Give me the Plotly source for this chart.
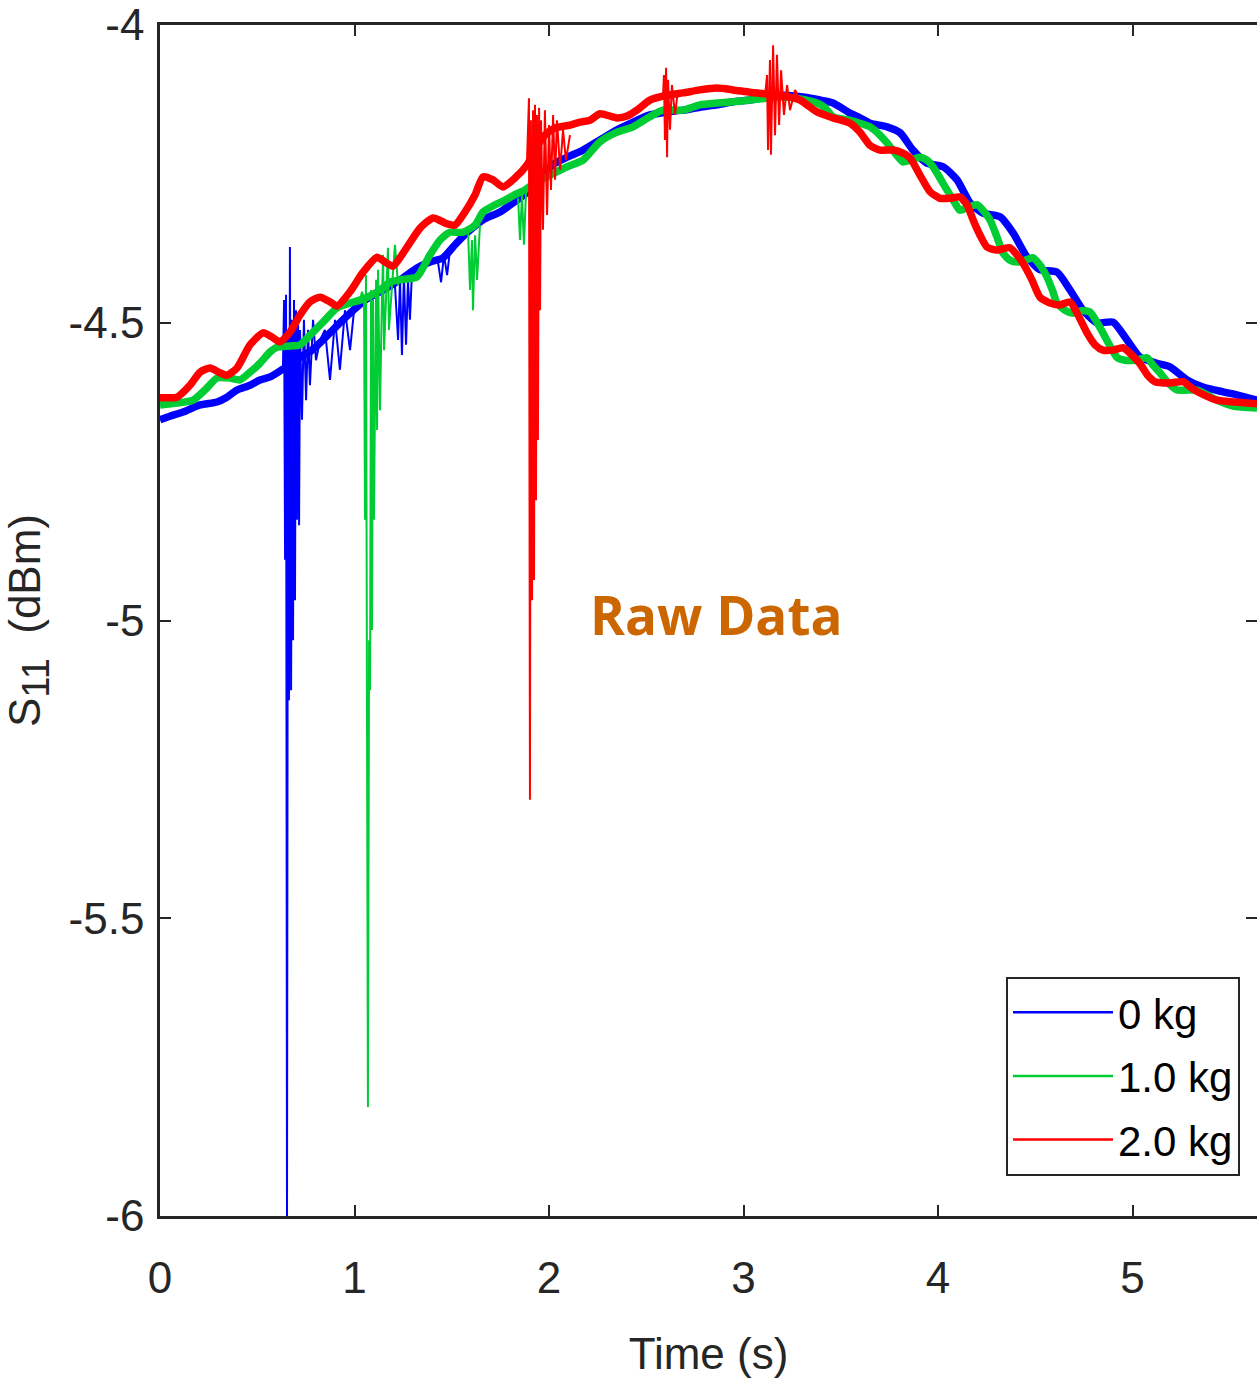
import plotly.graph_objects as go

# ---------------- data ----------------
t_0kg = [0.000, 0.051, 0.118, 0.206, 0.293, 0.344, 0.396, 0.463, 0.514, 0.566,
         0.627, 0.668, 0.720, 0.781, 0.838, 0.889, 0.941, 0.977, 1.054, 1.147,
         1.234, 1.321, 1.388, 1.455, 1.517, 1.578, 1.661, 1.748, 1.835, 1.902,
         1.979, 2.031, 2.093, 2.175, 2.262, 2.350, 2.432, 2.519, 2.607, 2.689,
         2.776, 2.864, 2.946, 3.033, 3.121, 3.203, 3.306, 3.393, 3.460, 3.548,
         3.599, 3.650, 3.738, 3.805, 3.871, 3.943, 4.026, 4.098, 4.165, 4.231,
         4.319, 4.386, 4.458, 4.524, 4.612, 4.679, 4.746, 4.817, 4.900, 4.972,
         5.039, 5.126, 5.193, 5.280, 5.362, 5.465, 5.537, 5.640]
s11_0kg = [-4.663, -4.657, -4.650, -4.638, -4.633, -4.625, -4.613, -4.605, -4.596, -4.591,
           -4.579, -4.571, -4.558, -4.546, -4.529, -4.512, -4.495, -4.484, -4.462, -4.445,
           -4.428, -4.408, -4.398, -4.391, -4.369, -4.349, -4.327, -4.314, -4.294, -4.277,
           -4.247, -4.232, -4.222, -4.210, -4.193, -4.176, -4.163, -4.151, -4.146, -4.143,
           -4.138, -4.134, -4.129, -4.126, -4.121, -4.118, -4.121, -4.126, -4.131, -4.148,
           -4.156, -4.165, -4.171, -4.181, -4.210, -4.232, -4.238, -4.260, -4.299, -4.316,
           -4.322, -4.349, -4.390, -4.411, -4.415, -4.445, -4.479, -4.500, -4.499, -4.529,
           -4.558, -4.568, -4.574, -4.596, -4.608, -4.616, -4.621, -4.630]

t_0kg_spikes = [0.632, 0.638, 0.643, 0.648, 0.653, 0.658, 0.663, 0.668, 0.674, 0.679,
                0.684, 0.689, 0.694, 0.699, 0.704, 0.710, 0.715, 0.720, 0.730, 0.740,
                0.751, 0.761, 0.771, 0.787, 0.802, 0.823, 0.848, 0.874, 0.900, 0.925,
                0.951, 0.977, 1.003, None,
                1.208, 1.224, 1.234, 1.244, 1.254, 1.265, 1.275, 1.285, 1.296, None,
                1.429, 1.445, 1.460, 1.476, 1.491]
s11_0kg_spikes = [-4.576, -4.462, -4.898, -4.453, -6.000, -4.512, -5.134, -4.373, -5.117, -4.495,
                  -5.033, -4.462, -4.966, -4.479, -4.831, -4.495, -4.840, -4.512, -4.663, -4.495,
                  -4.630, -4.512, -4.605, -4.495, -4.563, -4.529, -4.512, -4.596, -4.495, -4.579,
                  -4.479, -4.546, -4.462, None,
                  -4.437, -4.529, -4.428, -4.554, -4.420, -4.537, -4.428, -4.495, -4.411, None,
                  -4.398, -4.432, -4.386, -4.420, -4.378]

t_1kg = [0.000, 0.087, 0.170, 0.231, 0.293, 0.360, 0.411, 0.463, 0.514, 0.566,
         0.602, 0.668, 0.720, 0.771, 0.838, 0.910, 0.977, 1.028, 1.080, 1.131,
         1.183, 1.234, 1.321, 1.388, 1.440, 1.491, 1.558, 1.620, 1.661, 1.722,
         1.774, 1.825, 1.877, 1.928, 2.005, 2.093, 2.175, 2.262, 2.350, 2.432,
         2.519, 2.586, 2.689, 2.776, 2.864, 2.946, 3.033, 3.121, 3.203, 3.290,
         3.378, 3.419, 3.460, 3.548, 3.599, 3.650, 3.702, 3.738, 3.779, 3.820,
         3.856, 3.907, 3.943, 3.974, 4.010, 4.046, 4.087, 4.113, 4.154, 4.201,
         4.231, 4.267, 4.303, 4.334, 4.370, 4.406, 4.447, 4.488, 4.524, 4.560,
         4.591, 4.612, 4.653, 4.694, 4.740, 4.781, 4.817, 4.848, 4.884, 4.920,
         4.961, 5.013, 5.075, 5.105, 5.141, 5.183, 5.229, 5.280, 5.332, 5.383,
         5.434, 5.517, 5.640]
s11_1kg = [-4.638, -4.635, -4.630, -4.613, -4.593, -4.593, -4.596, -4.583, -4.568, -4.549,
           -4.541, -4.539, -4.537, -4.521, -4.499, -4.475, -4.467, -4.462, -4.455, -4.445,
           -4.432, -4.428, -4.423, -4.386, -4.361, -4.348, -4.348, -4.336, -4.314, -4.302,
           -4.294, -4.285, -4.277, -4.265, -4.252, -4.238, -4.227, -4.196, -4.180, -4.171,
           -4.154, -4.143, -4.143, -4.134, -4.131, -4.129, -4.126, -4.123, -4.121, -4.124,
           -4.131, -4.139, -4.154, -4.160, -4.165, -4.171, -4.185, -4.198, -4.215, -4.230,
           -4.227, -4.222, -4.227, -4.238, -4.257, -4.277, -4.299, -4.311, -4.306, -4.302,
           -4.311, -4.327, -4.356, -4.383, -4.395, -4.398, -4.395, -4.391, -4.403, -4.423,
           -4.448, -4.467, -4.479, -4.484, -4.480, -4.482, -4.499, -4.517, -4.539, -4.558,
           -4.563, -4.563, -4.559, -4.571, -4.584, -4.601, -4.613, -4.613, -4.613, -4.621,
           -4.630, -4.640, -4.643]

t_1kg_spikes = [1.028, 1.039, 1.049, 1.054, 1.059, 1.064, 1.069, 1.075, 1.080, 1.085,
                1.090, 1.095, 1.100, 1.111, 1.116, 1.121, 1.131, 1.141, 1.147, 1.152,
                1.162, 1.172, 1.177, 1.193, 1.208, 1.224, None,
                1.584, 1.594, 1.604, 1.609, 1.620, 1.630, 1.645, None,
                1.841, 1.851, 1.861, 1.871, 1.882]
s11_1kg_spikes = [-4.462, -4.448, -4.462, -4.831, -4.420, -5.050, -5.817, -5.033, -5.117, -4.445,
                  -5.016, -4.462, -4.831, -4.428, -4.680, -4.411, -4.647, -4.462, -4.386, -4.546,
                  -4.445, -4.374, -4.512, -4.428, -4.369, -4.437, None,
                  -4.348, -4.445, -4.361, -4.479, -4.353, -4.428, -4.336, None,
                  -4.291, -4.361, -4.285, -4.369, -4.280]

t_2kg = [0.000, 0.051, 0.087, 0.154, 0.206, 0.257, 0.308, 0.344, 0.396, 0.463,
         0.530, 0.576, 0.617, 0.668, 0.720, 0.771, 0.823, 0.874, 0.910, 0.977,
         1.044, 1.116, 1.157, 1.198, 1.260, 1.337, 1.404, 1.476, 1.517, 1.568,
         1.620, 1.661, 1.712, 1.763, 1.825, 1.887, 1.928, 1.979, 2.031, 2.108,
         2.159, 2.211, 2.262, 2.350, 2.401, 2.452, 2.519, 2.607, 2.689, 2.776,
         2.864, 2.946, 3.033, 3.121, 3.203, 3.290, 3.378, 3.460, 3.548, 3.599,
         3.650, 3.702, 3.769, 3.820, 3.856, 3.907, 3.959, 4.010, 4.062, 4.113,
         4.149, 4.180, 4.216, 4.252, 4.303, 4.370, 4.406, 4.437, 4.483, 4.524,
         4.576, 4.627, 4.679, 4.720, 4.766, 4.807, 4.848, 4.900, 4.951, 4.997,
         5.039, 5.080, 5.116, 5.193, 5.260, 5.306, 5.347, 5.434, 5.527, 5.640]
s11_2kg = [-4.626, -4.626, -4.625, -4.605, -4.583, -4.576, -4.584, -4.588, -4.576, -4.537,
           -4.517, -4.524, -4.532, -4.516, -4.487, -4.465, -4.457, -4.465, -4.472, -4.448,
           -4.415, -4.390, -4.398, -4.405, -4.378, -4.341, -4.324, -4.334, -4.336, -4.314,
           -4.285, -4.255, -4.260, -4.272, -4.257, -4.235, -4.210, -4.185, -4.173, -4.168,
           -4.163, -4.160, -4.149, -4.156, -4.153, -4.143, -4.126, -4.118, -4.114, -4.109,
           -4.106, -4.109, -4.113, -4.116, -4.119, -4.126, -4.146, -4.156, -4.165, -4.180,
           -4.202, -4.210, -4.210, -4.215, -4.223, -4.252, -4.280, -4.291, -4.291, -4.289,
           -4.302, -4.327, -4.353, -4.373, -4.378, -4.374, -4.386, -4.400, -4.428, -4.457,
           -4.467, -4.470, -4.465, -4.487, -4.517, -4.537, -4.546, -4.546, -4.542, -4.554,
           -4.569, -4.589, -4.599, -4.601, -4.599, -4.610, -4.618, -4.630, -4.633, -4.636]

t_2kg_spikes = [1.887, 1.897, 1.902, 1.907, 1.913, 1.918, 1.923, 1.928, 1.933, 1.938,
                1.943, 1.949, 1.954, 1.959, 1.969, 1.979, 1.990, 2.000, 2.010, 2.021,
                2.031, 2.041, 2.057, 2.072, 2.087, 2.108, None,
                2.586, 2.591, 2.596, 2.602, 2.607, 2.612, 2.622, 2.632, 2.648, 2.663, None,
                3.111, 3.121, 3.126, 3.136, 3.141, 3.152, 3.162, 3.172, 3.183, 3.193,
                3.208, 3.224, 3.239, 3.265, 3.290]
s11_2kg_spikes = [-4.227, -4.123, -5.301, -4.160, -4.966, -4.143, -4.932, -4.134, -4.798, -4.151,
                  -4.697, -4.139, -4.479, -4.160, -4.344, -4.143, -4.319, -4.168, -4.277, -4.151,
                  -4.260, -4.160, -4.243, -4.176, -4.227, -4.185, None,
                  -4.121, -4.084, -4.193, -4.072, -4.222, -4.092, -4.176, -4.101, -4.151, -4.109, None,
                  -4.118, -4.084, -4.210, -4.059, -4.218, -4.034, -4.185, -4.050, -4.168, -4.076,
                  -4.151, -4.101, -4.143, -4.109, -4.126]

series_names = ["0 kg", "1.0 kg", "2.0 kg"]
series_colors = ["#0000ff", "#00cc33", "#ff0000"]

x_tickvals = [0, 1, 2, 3, 4, 5]
x_ticktext = ["0", "1", "2", "3", "4", "5"]
y_tickvals = [-6, -5.5, -5, -4.5, -4]
y_ticktext = ["-6", "-5.5", "-5", "-4.5", "-4"]

annotation_text = "Raw Data"
annotation_pos = (2.86, -4.99)

# ---------------- figure ----------------
fig = go.Figure()

mains = [(t_0kg, s11_0kg), (t_1kg, s11_1kg), (t_2kg, s11_2kg)]
spikes = [(t_0kg_spikes, s11_0kg_spikes), (t_1kg_spikes, s11_1kg_spikes),
          (t_2kg_spikes, s11_2kg_spikes)]

for (tm, vm), (ts, vs), name, col in zip(mains, spikes, series_names, series_colors):
    fig.add_trace(go.Scatter(x=tm, y=vm, mode="lines", name=name, legendgroup=name,
                             line=dict(color=col, width=7.5, shape="spline", smoothing=0.6),
                             showlegend=False))
    fig.add_trace(go.Scatter(x=ts, y=vs, mode="lines", name=name, legendgroup=name,
                             line=dict(color=col, width=2), showlegend=False,
                             connectgaps=False))
    # legend entry with thin line like the reference
    fig.add_trace(go.Scatter(x=[None], y=[None], mode="lines", name=name, legendgroup=name,
                             line=dict(color=col, width=2.5), showlegend=True))

axis_font = dict(family="Liberation Sans Narrow, Arial Narrow, Liberation Sans, Arial",
                 size=44, color="#262626")

fig.update_xaxes(range=[0, 5.64], tickvals=x_tickvals, ticktext=x_ticktext,
                 ticks="inside", ticklen=11, tickwidth=2, tickcolor="#262626",
                 showline=True, linewidth=2.5, linecolor="#262626", mirror="ticks",
                 showgrid=False, zeroline=False, tickfont=axis_font,
                 ticklabelstandoff=21,
                 title=dict(text="Time (s)", font=axis_font, standoff=38))
fig.update_yaxes(range=[-6, -4], tickvals=y_tickvals, ticktext=y_ticktext,
                 ticks="inside", ticklen=11, tickwidth=2, tickcolor="#262626",
                 showline=True, linewidth=2.5, linecolor="#262626", mirror="ticks",
                 showgrid=False, zeroline=False, tickfont=axis_font,
                 ticklabelstandoff=4,
                 title=dict(text="S<sub><span style='font-size:38px'>11</span></sub>  (dBm)",
                            font=dict(family="Liberation Sans, Arial", size=44, color="#262626"),
                            standoff=22))

fig.add_annotation(x=annotation_pos[0], y=annotation_pos[1], xref="x", yref="y",
                   text="<b>" + annotation_text + "</b>", showarrow=False,
                   font=dict(family="Open Sans, Noto Sans", size=53, color="#cc6600"))

fig.update_layout(
    width=1257, height=1385,
    margin=dict(l=160, r=0, t=25, b=169, autoexpand=False),
    plot_bgcolor="white", paper_bgcolor="white",
    showlegend=True,
    legend=dict(x=0.9845, y=0.034, xanchor="right", yanchor="bottom",
                bgcolor="white", bordercolor="#262626", borderwidth=2,
                font=dict(family="Liberation Sans Narrow, Arial Narrow, Liberation Sans, Arial",
                          size=42, color="#000000"),
                itemwidth=100, tracegroupgap=6),
)

fig.write_html("out.html", config={"displayModeBar": False},
               post_script="document.body.style.margin='0';document.body.style.overflow='hidden';")
